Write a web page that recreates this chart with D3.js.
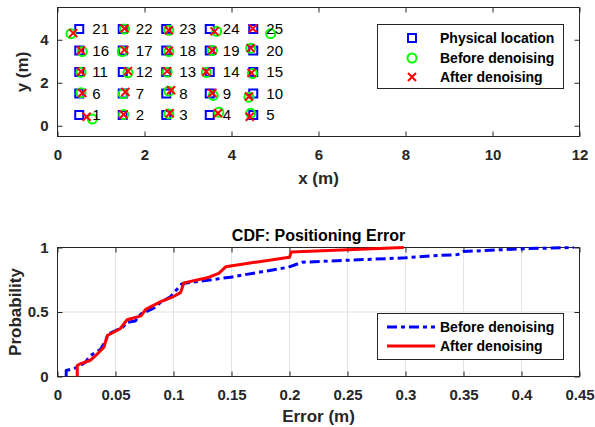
<!DOCTYPE html>
<html>
<head>
<meta charset="utf-8">
<script src="https://cdn.jsdelivr.net/npm/d3@7"></script>
<style>
  body { margin: 0; background: #fff; }
  text { font-family: "Liberation Sans", Arial, sans-serif; fill: #262626; }
  .tick text { font-size: 15px; font-weight: bold; }
  .lab { font-size: 17px; font-weight: bold; }
  .leg { font-size: 14px; font-weight: bold; fill: #000; }
</style>
</head>
<body>
<script>
// point ids and positions (m)
var ids = d3.range(1, 26);
var physX = [0.5,1.5,2.5,3.5,4.5, 0.5,1.5,2.5,3.5,4.5, 0.5,1.5,2.5,3.5,4.5, 0.5,1.5,2.5,3.5,4.5, 0.5,1.5,2.5,3.5,4.5];
var physY = [0.5,0.5,0.5,0.5,0.5, 1.5,1.5,1.5,1.5,1.5, 2.5,2.5,2.5,2.5,2.5, 3.5,3.5,3.5,3.5,3.5, 4.5,4.5,4.5,4.5,4.5];
var beforeX = [0.80,1.52,2.56,3.71,4.44, 0.54,1.51,2.56,3.58,4.40, 0.54,1.62,2.52,3.42,4.48, 0.57,1.49,2.56,3.56,4.44, 0.31,1.54,2.56,3.66,4.90];
var beforeY = [0.31,0.52,0.55,0.63,0.58, 1.54,1.49,1.61,1.41,1.33, 2.48,2.46,2.49,2.48,2.43, 3.45,3.45,3.45,3.50,3.61, 4.28,4.50,4.44,4.39,4.28];
var afterX = [0.67,1.52,2.58,3.69,4.42, 0.57,1.56,2.61,3.56,4.40, 0.54,1.62,2.52,3.42,4.46, 0.54,1.54,2.56,3.56,4.44, 0.36,1.54,2.56,3.61,4.49];
var afterY = [0.42,0.52,0.58,0.58,0.42, 1.52,1.57,1.65,1.52,1.36, 2.51,2.54,2.54,2.51,2.46, 3.50,3.53,3.49,3.50,3.61, 4.31,4.52,4.44,4.39,4.52];

// CDF vertices
var errBefore = [0.0075,0.0075,0.017,0.024,0.028,0.037,0.041,0.044,0.056,0.060,0.067,0.072,0.083,0.089,0.097,0.1075,0.149,0.199,0.211,0.300,0.3215,0.345,0.350,0.400,0.445];
var cdfBefore = [0,0.046,0.07,0.11,0.16,0.21,0.27,0.33,0.38,0.42,0.43,0.485,0.53,0.576,0.615,0.72,0.77,0.847,0.886,0.92,0.935,0.945,0.969,0.99,1.0];
var errAfter = [0.017,0.017,0.020,0.028,0.033,0.040,0.043,0.054,0.060,0.072,0.076,0.089,0.100,0.106,0.109,0.129,0.139,0.145,0.166,0.200,0.2015,0.2985];
var cdfAfter = [0,0.085,0.10,0.124,0.163,0.227,0.318,0.37,0.44,0.47,0.52,0.58,0.62,0.65,0.726,0.765,0.80,0.85,0.88,0.925,0.965,1.0];

var xTicksTop = [0,2,4,6,8,10,12];
var yTicksTop = [0,2,4];
var xTicksBot = [0,0.05,0.1,0.15,0.2,0.25,0.3,0.35,0.4,0.45];
var yTicksBot = [0,0.5,1];

var W = 595, H = 427;
var svg = d3.select("body").append("svg").attr("width", W).attr("height", H);
svg.append("rect").attr("width", W).attr("height", H).attr("fill", "#fff");

var left = 57.5, right = 579.5;
var axCol = "#262626";

// ---------- top plot ----------
var x1 = d3.scaleLinear().domain([0, 12]).range([left, right]);
var y1 = d3.scaleLinear().domain([-0.5, 5.5]).range([136.5, 7.5]);

function boxAxes(g, x, y, xt, yt, xfmt, yfmt) {
    var x0 = x.range()[0], xE = x.range()[1], yB = y.range()[0], yT = y.range()[1];
    g.append("g").attr("transform", "translate(0," + yB + ")")
        .call(d3.axisBottom(x).tickValues(xt).tickSize(-5).tickPadding(13).tickFormat(xfmt));
    g.append("g").attr("transform", "translate(0," + yT + ")")
        .call(d3.axisTop(x).tickValues(xt).tickSize(-5).tickFormat(""));
    g.append("g").attr("transform", "translate(" + x0 + ",0)")
        .call(d3.axisLeft(y).tickValues(yt).tickSize(-5).tickPadding(9).tickFormat(yfmt));
    g.append("g").attr("transform", "translate(" + xE + ",0)")
        .call(d3.axisRight(y).tickValues(yt).tickSize(-5).tickFormat(""));
    g.selectAll(".domain").remove();
    g.selectAll(".tick line").attr("stroke", axCol);
    g.selectAll(".tick text").attr("fill", axCol);
    g.append("rect").attr("x", x0).attr("y", yT).attr("width", xE - x0).attr("height", yB - yT)
        .attr("fill", "none").attr("stroke", axCol).attr("stroke-width", 1);
}

var topG = svg.append("g");
boxAxes(topG, x1, y1, xTicksTop, yTicksTop, d3.format("d"), d3.format("d"));

topG.append("text").attr("class", "lab").attr("x", (left + right) / 2).attr("y", 184)
    .attr("text-anchor", "middle").text("x (m)");
topG.append("text").attr("class", "lab").attr("transform", "translate(28," + (y1(2.5)) + ") rotate(-90)")
    .attr("text-anchor", "middle").text("y (m)");

var pts = ids.map(function(id, i) {
    return {id: id, px: physX[i], py: physY[i], bx: beforeX[i], by: beforeY[i], ax: afterX[i], ay: afterY[i]};
});

var sq = 8;
topG.selectAll(".phys").data(pts).enter().append("rect")
    .attr("x", function(d) { return x1(d.px) - sq / 2; })
    .attr("y", function(d) { return y1(d.py) - sq / 2; })
    .attr("width", sq).attr("height", sq)
    .attr("fill", "none").attr("stroke", "#0000ff").attr("stroke-width", 2);

topG.selectAll(".bef").data(pts).enter().append("circle")
    .attr("cx", function(d) { return x1(d.bx); })
    .attr("cy", function(d) { return y1(d.by); })
    .attr("r", 4.5)
    .attr("fill", "none").attr("stroke", "#00ff00").attr("stroke-width", 2);

function cross(g, cx, cy, s) {
    g.append("path").attr("d", "M" + (cx - s) + "," + (cy - s) + "L" + (cx + s) + "," + (cy + s) +
        "M" + (cx - s) + "," + (cy + s) + "L" + (cx + s) + "," + (cy - s))
        .attr("stroke", "#ff0000").attr("stroke-width", 2).attr("fill", "none");
}
pts.forEach(function(d) { cross(topG, x1(d.ax), y1(d.ay), 4); });

topG.selectAll(".num").data(pts).enter().append("text")
    .attr("x", function(d) { return x1(d.px + 0.3); })
    .attr("y", function(d) { return y1(d.py); })
    .attr("dy", "0.36em")
    .style("font-size", "15px").style("fill", "#000")
    .text(function(d) { return d.id; });

// legend top
var lg = topG.append("g");
lg.append("rect").attr("x", 377.5).attr("y", 24.5).attr("width", 186).attr("height", 64)
    .attr("fill", "#fff").attr("stroke", axCol);
var legRows = [38, 58, 77];
lg.append("rect").attr("x", 412 - 4).attr("y", legRows[0] - 4).attr("width", 8).attr("height", 8)
    .attr("fill", "none").attr("stroke", "#0000ff").attr("stroke-width", 2);
lg.append("circle").attr("cx", 412).attr("cy", legRows[1]).attr("r", 4.5)
    .attr("fill", "none").attr("stroke", "#00ff00").attr("stroke-width", 2);
cross(lg, 412, legRows[2], 4);
["Physical location", "Before denoising", "After denoising"].forEach(function(t, i) {
    lg.append("text").attr("class", "leg").attr("x", 440).attr("y", legRows[i]).attr("dy", "0.36em").text(t);
});

// ---------- bottom plot ----------
var x2 = d3.scaleLinear().domain([0, 0.45]).range([left, right]);
var y2 = d3.scaleLinear().domain([0, 1]).range([376.5, 247.5]);

var bot = svg.append("g");
// grid
bot.selectAll(".gx").data(xTicksBot).enter().append("line")
    .attr("x1", function(d) { return x2(d); }).attr("x2", function(d) { return x2(d); })
    .attr("y1", y2(0)).attr("y2", y2(1)).attr("stroke", "#e3e3e3").attr("stroke-width", 1);
bot.selectAll(".gy").data(yTicksBot).enter().append("line")
    .attr("y1", function(d) { return y2(d); }).attr("y2", function(d) { return y2(d); })
    .attr("x1", left).attr("x2", right).attr("stroke", "#e3e3e3").attr("stroke-width", 1);

var fmtBot = function(d) { return d === 0 ? "0" : d3.format("")(d); };
boxAxes(bot, x2, y2, xTicksBot, yTicksBot, fmtBot, fmtBot);

bot.append("text").attr("class", "lab").attr("x", (left + right) / 2).attr("y", 422)
    .attr("text-anchor", "middle").text("Error (m)");
bot.append("text").attr("class", "lab").attr("transform", "translate(21," + y2(0.5) + ") rotate(-90)")
    .attr("text-anchor", "middle").text("Probability");
bot.append("text").attr("x", (left + right) / 2).attr("y", 241).attr("text-anchor", "middle")
    .style("font-size", "16px").style("font-weight", "bold").style("fill", "#000")
    .text("CDF: Positioning Error");

var line = d3.line().x(function(d) { return x2(d[0]); }).y(function(d) { return y2(d[1]); });
bot.append("path").datum(d3.zip(errBefore, cdfBefore)).attr("d", line)
    .attr("fill", "none").attr("stroke", "#0000ff").attr("stroke-width", 3)
    .attr("stroke-dasharray", "10,4,4,4").attr("stroke-linejoin", "round");
bot.append("path").datum(d3.zip(errAfter, cdfAfter)).attr("d", line)
    .attr("fill", "none").attr("stroke", "#ff0000").attr("stroke-width", 3)
    .attr("stroke-linejoin", "round");

// legend bottom
var lb = bot.append("g");
lb.append("rect").attr("x", 377.5).attr("y", 313.5).attr("width", 186).attr("height", 46)
    .attr("fill", "#fff").attr("stroke", axCol);
var lbRows = [327, 346];
lb.append("line").attr("x1", 387).attr("x2", 435).attr("y1", lbRows[0]).attr("y2", lbRows[0])
    .attr("stroke", "#0000ff").attr("stroke-width", 3).attr("stroke-dasharray", "10,4,4,4");
lb.append("line").attr("x1", 387).attr("x2", 435).attr("y1", lbRows[1]).attr("y2", lbRows[1])
    .attr("stroke", "#ff0000").attr("stroke-width", 3);
["Before denoising", "After denoising"].forEach(function(t, i) {
    lb.append("text").attr("class", "leg").attr("x", 440).attr("y", lbRows[i]).attr("dy", "0.36em").text(t);
});
</script>
</body>
</html>
